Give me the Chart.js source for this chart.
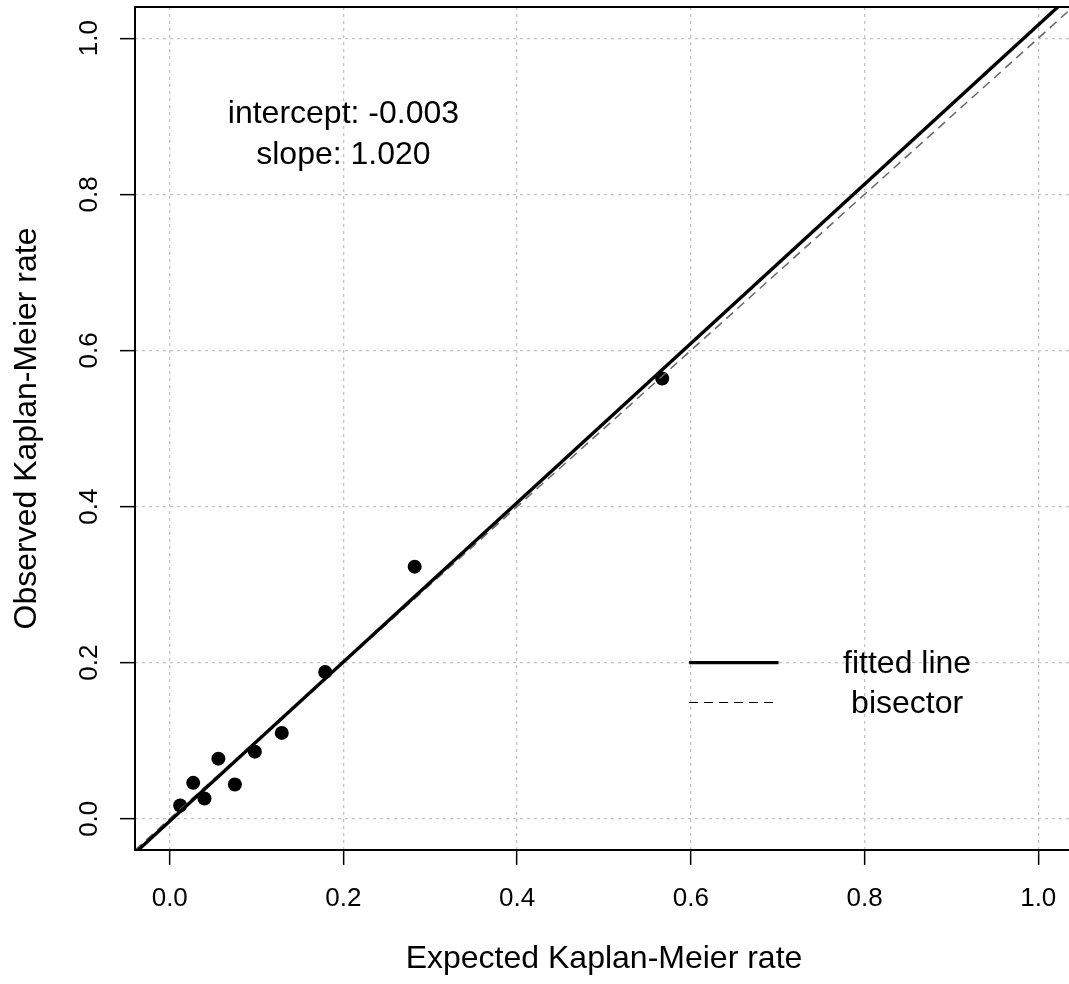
<!DOCTYPE html>
<html>
<head>
<meta charset="utf-8">
<script src="https://cdn.jsdelivr.net/npm/chart.js@4"></script>
<style>
  html, body { margin: 0; padding: 0; background: #fff; overflow: hidden; }
  #wrap { width: 1080px; height: 984px; }
</style>
</head>
<body>
<div id="wrap"><canvas id="calib" width="1080" height="984"></canvas></div>
<script>
// calibration points
const expectedRate = [0.012, 0.027, 0.040, 0.056, 0.075, 0.098, 0.129, 0.179, 0.282, 0.567];
const observedRate = [0.017, 0.046, 0.026, 0.077, 0.044, 0.086, 0.110, 0.188, 0.323, 0.564];

const fitIntercept = -0.003;
const fitSlope = 1.020;

const axisMin = -0.04;
const axisMax = 1.04;
const xTicks = [0, 0.2, 0.4, 0.6, 0.8, 1.0];
const yTicks = [0, 0.2, 0.4, 0.6, 0.8, 1.0];

const xTitle = "Expected Kaplan-Meier rate";
const yTitle = "Observed Kaplan-Meier rate";
const noteLines = ["intercept: -0.003", "slope: 1.020"];
const legendLabels = ["fitted line", "bisector"];

const FONT = '"Liberation Sans", Arial, Helvetica, sans-serif';

const points = expectedRate.map((v, i) => ({ x: v, y: observedRate[i] }));
const fitted = [axisMin, axisMax].map(v => ({ x: v, y: fitIntercept + fitSlope * v }));
const bisector = [axisMin, axisMax].map(v => ({ x: v, y: v }));

// box, rotated y labels, titles, text note and legend
const overlay = {
  id: "overlay",
  afterDraw(chart) {
    const { ctx, chartArea: a, scales: { x, y } } = chart;
    ctx.save();
    ctx.strokeStyle = "#000";
    ctx.lineWidth = 2;
    ctx.strokeRect(a.left, a.top, a.right - a.left, a.bottom - a.top);

    ctx.fillStyle = "#000";
    ctx.font = "26px " + FONT;
    ctx.textAlign = "center";
    ctx.textBaseline = "alphabetic";
    yTicks.forEach(v => {
      ctx.save();
      ctx.translate(a.left - 38, y.getPixelForValue(v));
      ctx.rotate(-Math.PI / 2);
      ctx.fillText(v.toFixed(1), 0, 0);
      ctx.restore();
    });

    ctx.font = "32px " + FONT;
    ctx.fillText(xTitle, (a.left + a.right) / 2, 968);
    ctx.save();
    ctx.translate(36, (a.top + a.bottom) / 2);
    ctx.rotate(-Math.PI / 2);
    ctx.fillText(yTitle, 0, 0);
    ctx.restore();

    // fit summary
    ctx.fillText(noteLines[0], x.getPixelForValue(0.2), 123);
    ctx.fillText(noteLines[1], x.getPixelForValue(0.2), 164);

    // legend
    const lx1 = x.getPixelForValue(0.598), lx2 = x.getPixelForValue(0.701);
    const tx = x.getPixelForValue(0.849);
    const r1 = y.getPixelForValue(0.2), r2 = y.getPixelForValue(0.149);
    ctx.lineWidth = 3.3;
    ctx.beginPath(); ctx.moveTo(lx1, r1); ctx.lineTo(lx2, r1); ctx.stroke();
    ctx.lineWidth = 1.2;
    ctx.setLineDash([9, 6]);
    ctx.beginPath(); ctx.moveTo(lx1, r2); ctx.lineTo(lx2, r2); ctx.stroke();
    ctx.setLineDash([]);
    ctx.textBaseline = "middle";
    ctx.fillText(legendLabels[0], tx, r1 + 2);
    ctx.fillText(legendLabels[1], tx, r2 + 2);
    ctx.restore();
  }
};

const gridStyle = {
  color: "#c4c4c4",
  lineWidth: 1.3,
  tickLength: 15,
  tickColor: "#000",
  tickWidth: 1.5,
  tickBorderDash: []
};

new Chart(document.getElementById("calib"), {
  type: "scatter",
  data: {
    datasets: [
      {
        label: "fitted line",
        data: fitted,
        showLine: true,
        borderColor: "#000",
        borderWidth: 3.4,
        pointRadius: 0,
        order: 0
      },
      {
        label: "bisector",
        data: bisector,
        showLine: true,
        borderColor: "#666",
        borderWidth: 1.5,
        borderDash: [9, 6],
        pointRadius: 0,
        order: 1
      },
      {
        label: "groups",
        data: points,
        pointRadius: 7,
        pointBackgroundColor: "#000",
        pointBorderColor: "#000",
        pointBorderWidth: 0,
        order: 2
      }
    ]
  },
  options: {
    responsive: false,
    animation: false,
    devicePixelRatio: 1,
    layout: { padding: { left: 0, top: 6, right: 6, bottom: 0 } },
    plugins: { legend: { display: false }, tooltip: { enabled: false } },
    scales: {
      x: {
        type: "linear",
        min: axisMin,
        max: axisMax,
        afterBuildTicks: s => { s.ticks = xTicks.map(v => ({ value: v })); },
        afterFit: s => { s.height = 134; },
        border: { display: false, dash: [3, 4] },
        grid: gridStyle,
        ticks: {
          color: "#000",
          font: { family: FONT, size: 26 },
          padding: 18,
          maxRotation: 0,
          callback: v => v.toFixed(1)
        }
      },
      y: {
        type: "linear",
        min: axisMin,
        max: axisMax,
        afterBuildTicks: s => { s.ticks = yTicks.map(v => ({ value: v })); },
        afterFit: s => { s.width = 135; },
        border: { display: false, dash: [3, 4] },
        grid: gridStyle,
        ticks: { display: false }
      }
    }
  },
  plugins: [overlay]
});
</script>
</body>
</html>
